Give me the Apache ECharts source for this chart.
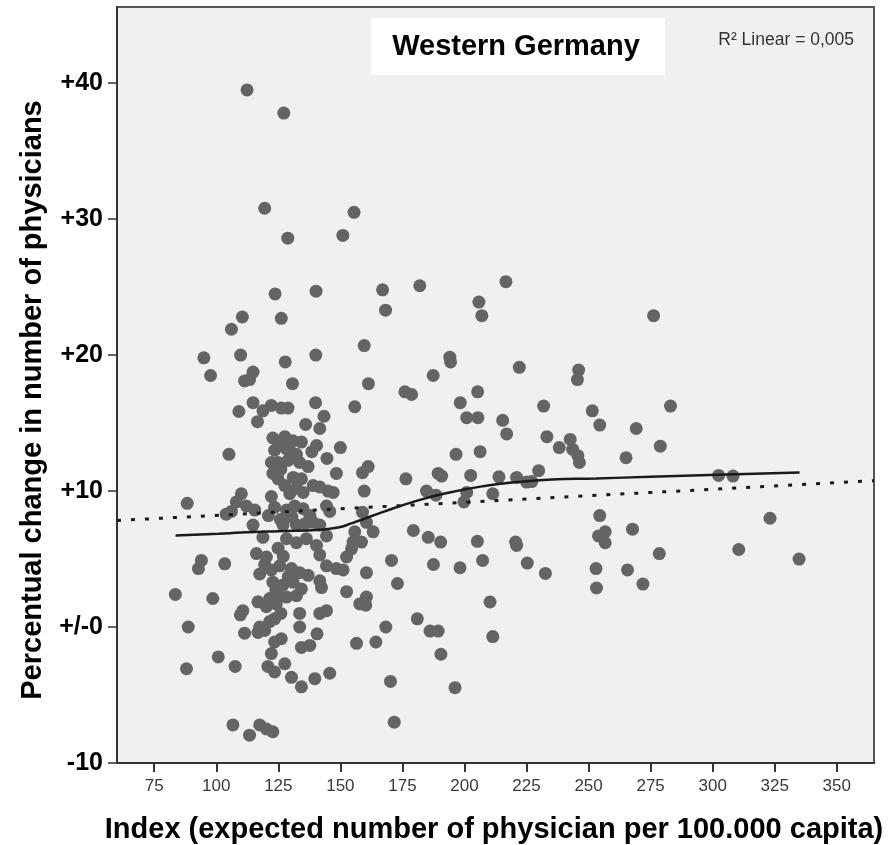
<!DOCTYPE html>
<html>
<head>
<meta charset="utf-8">
<title>Western Germany</title>
<script src="https://cdn.jsdelivr.net/npm/echarts@6.0.0/dist/echarts.min.js"></script>
<style>
	html, body { margin: 0; padding: 0; background: #fff; }
	#chart { width: 892px; height: 845px; }
</style>
</head>
<body>
<div id="chart"></div>
<script>
"use strict";

/*-----data-----*/
var xTicks = [75, 100, 125, 150, 175, 200, 225, 250, 275, 300, 325, 350];
var yTicks = [-10, 0, 10, 20, 30, 40];

// index value of each district
var districtIndex = [
	112.4, 127.2, 119.5, 155.5, 128.8, 151.0, 123.7, 140.2, 167.0, 182.0,
	168.2, 110.5, 126.2, 106.1, 159.6, 95.0, 109.8, 140.1, 127.8, 97.7,
	114.8, 111.4, 113.4, 130.7, 161.3, 176.0, 178.7,
	109.1, 114.8, 116.6, 118.8, 122.2, 126.2, 128.9, 140.0, 143.4, 155.8,
	136.0, 141.7, 105.1, 122.8, 127.6, 130.9, 134.3, 123.5, 128.3, 132.3,
	140.4, 150.0, 124.9, 128.9, 133.6, 144.6, 122.2, 122.8, 124.9, 137.0,
	134.3, 148.4, 139.0, 141.7, 145.0, 147.1, 127.6, 129.6, 132.3, 135.0,
	122.2, 110.1, 108.1, 106.1, 112.1, 115.5, 104.0, 123.5, 128.3, 131.6,
	135.0, 137.7, 144.4, 145.7, 114.8, 118.8, 126.9, 128.3, 132.3, 136.3,
	139.0, 141.7, 144.4, 155.8,
	125.6, 130.0, 126.0, 131.0, 138.5, 121.0, 125.8, 130.5, 135.8,
	103.4, 116.2, 120.2, 124.9, 132.3, 140.4, 141.7, 154.5, 152.5, 144.4,
	148.4, 151.1, 117.5, 122.2, 125.6, 130.3, 133.6, 137.0, 122.8, 126.9,
	130.9, 134.3, 141.7, 142.4, 116.8, 121.5, 124.9, 128.3, 132.3, 120.2,
	124.2, 152.5, 110.7, 109.7, 133.6, 141.7, 144.4, 157.8, 117.5, 121.5,
	123.5, 116.8, 119.5, 133.6, 111.4, 140.6, 123.5, 126.2, 134.3, 137.7,
	122.2, 156.5, 100.8, 107.6, 120.8, 123.5, 127.6, 130.3, 134.3, 139.7,
	145.7, 106.7, 113.4, 117.5, 120.2, 122.8,
	127.0, 129.0, 124.0, 119.5, 126.0,
	83.5, 98.6, 88.7, 88.0, 94.0, 92.8, 160.5, 160.5, 160.2, 173.0,
	170.6, 168.3, 164.3, 181.0, 186.1, 189.4, 190.5, 196.2, 170.2, 171.7,
	187.5, 88.3,
	198.2, 207.3, 225.3, 232.6, 253.0, 253.2, 265.7, 271.9, 210.3, 211.4,
	334.8,
	216.7, 205.8, 207.0, 194.1, 194.4, 222.1, 246.0, 245.5, 187.4, 205.3,
	198.3, 200.9, 205.4, 231.9, 251.5, 254.5, 215.4, 217.0, 233.2, 238.2,
	242.6, 243.6, 245.7, 246.3, 196.6, 206.3, 161.2, 158.9, 159.6, 176.4,
	189.4, 190.8, 202.5, 213.9, 221.0, 225.0, 227.1, 229.9, 184.7, 188.5,
	200.9, 199.8, 211.4, 158.9, 160.5, 163.2, 155.1, 158.5, 179.4, 185.4,
	190.4, 205.2, 220.6, 221.0,
	276.2, 283.0, 269.2, 278.9, 265.1, 302.4, 308.2, 254.5, 256.7, 254.0,
	256.7, 267.7, 323.1, 278.5, 310.5
];

// percentual change in number of physicians, same order
var physicianChange = [
	39.5, 37.8, 30.8, 30.5, 28.6, 28.8, 24.5, 24.7, 24.8, 25.1,
	23.3, 22.8, 22.7, 21.9, 20.7, 19.8, 20.0, 20.0, 19.5, 18.5,
	18.75, 18.1, 18.2, 17.9, 17.9, 17.3, 17.1,
	15.85, 16.5, 15.1, 15.9, 16.3, 16.1, 16.1, 16.5, 15.5, 16.2,
	14.9, 14.6, 12.7, 13.9, 14.0, 13.7, 13.6, 13.0, 13.1, 12.7,
	13.35, 13.2, 12.1, 12.25, 12.1, 12.4, 12.1, 11.3, 10.9, 11.8,
	10.9, 11.3, 10.4, 10.3, 10.0, 9.9, 10.4, 9.8, 10.2, 9.9,
	9.6, 9.8, 9.2, 8.5, 8.9, 8.6, 8.3, 8.8, 8.6, 8.9,
	8.7, 8.2, 8.9, 8.5, 7.5, 6.6, 7.5, 6.5, 7.5, 6.5,
	7.7, 7.5, 6.7, 7.0,
	13.4, 12.9, 11.6, 11.0, 12.9, 8.2, 7.9, 8.1, 7.6,
	4.65, 5.4, 5.15, 5.8, 6.2, 6.0, 5.3, 5.75, 5.15, 4.5,
	4.3, 4.2, 3.9, 4.2, 4.5, 4.3, 4.0, 3.8, 3.3, 3.1,
	3.3, 2.8, 3.4, 2.9, 1.85, 2.1, 2.3, 2.2, 2.3, 1.5,
	1.7, 2.6, 1.2, 0.9, 1.0, 1.0, 1.2, 1.7, 0.0, 0.4,
	0.6, -0.4, -0.25, 0.0, -0.45, -0.5, -1.1, -0.86, -1.5, -1.35,
	-1.95, -1.2, -2.2, -2.9, -2.9, -3.3, -2.7, -3.7, -4.4, -3.8,
	-3.4, -7.2, -7.95, -7.2, -7.5, -7.7,
	5.2, 3.7, 2.7, 4.6, 1.0,
	2.4, 2.1, 0.0, -3.07, 4.9, 4.3, 4.0, 2.2, 1.6, 3.2,
	4.9, 0.0, -1.1, 0.6, -0.3, -0.3, -2.0, -4.46, -4.0, -7.0,
	4.6, 9.1,
	4.36, 4.9, 4.7, 3.94, 4.3, 2.87, 4.2, 3.16, 1.84, -0.7,
	5.0,
	25.4, 23.9, 22.9, 19.85, 19.5, 19.1, 18.9, 18.2, 18.5, 17.3,
	16.5, 15.4, 15.4, 16.25, 15.9, 14.85, 15.2, 14.2, 14.0, 13.2,
	13.8, 13.06, 12.6, 12.1, 12.7, 12.9, 11.8, 11.35, 10.0, 10.9,
	11.3, 11.1, 11.15, 11.05, 11.0, 10.66, 10.7, 11.5, 10.0, 9.7,
	9.9, 9.2, 9.8, 8.45, 7.7, 7.0, 6.25, 6.25, 7.1, 6.6,
	6.25, 6.3, 6.25, 6.0,
	22.9, 16.25, 14.6, 13.3, 12.45, 11.15, 11.1, 8.2, 7.0, 6.7,
	6.2, 7.2, 8.0, 5.4, 5.7
];

// loess fit
var loessX = [83.6, 101, 110, 125, 142, 150, 154, 158, 167, 181, 194, 208, 221, 235, 253, 275, 302, 335];
var loessY = [6.74, 6.86, 6.95, 7.05, 7.15, 7.35, 7.6, 7.85, 8.45, 9.3, 9.9, 10.37, 10.66, 10.85, 10.93, 11.05, 11.2, 11.37];

// linear fit end points
var linearX = [60, 365];
var linearY = [7.83, 10.76];

function pairs(xs, ys) {
	var out = [];
	for (var i = 0; i < xs.length; i++) out.push([xs[i], ys[i]]);
	return out;
}

var font = "'Liberation Sans', Arial, sans-serif";

/*-----chart-----*/
var chart = echarts.init(document.getElementById('chart'), null, { renderer: 'canvas' });
var option = {
	animation: false,
	backgroundColor: '#ffffff',
	grid: {
		left: 117,
		right: 18,
		top: 7,
		bottom: 82,
		show: true,
		backgroundColor: '#f0f0f0',
		borderColor: '#555555',
		borderWidth: 2
	},
	xAxis: {
		type: 'value',
		min: 60,
		max: 365,
		splitLine: { show: false },
		axisLine: { show: true, onZero: false, lineStyle: { color: '#333333', width: 2 } },
		axisTick: {
			show: true,
			customValues: xTicks,
			length: 9,
			lineStyle: { color: '#333333', width: 2 }
		},
		axisLabel: {
			customValues: xTicks,
			margin: 15,
			fontSize: 17,
			color: '#3a3a3a',
			fontFamily: font
		}
	},
	yAxis: {
		type: 'value',
		min: -10,
		max: 45.6,
		splitLine: { show: false },
		axisLine: { show: true, onZero: false, lineStyle: { color: '#333333', width: 2 } },
		axisTick: {
			show: true,
			customValues: yTicks,
			length: 9,
			lineStyle: { color: '#333333', width: 1.5 }
		},
		axisLabel: {
			customValues: yTicks,
			margin: 14,
			fontSize: 25,
			fontWeight: 'bold',
			color: '#000000',
			fontFamily: font,
			formatter: function (v) {
				if (v === 0) return '+/-0';
				return v > 0 ? '+' + v : String(v);
			}
		}
	},
	graphic: [{
		type: 'rect',
		shape: { x: 371, y: 18, width: 294, height: 57 },
		style: { fill: '#ffffff' },
		z: 10
	}, {
		type: 'text',
		x: 516,
		y: 47,
		style: {
			text: 'Western Germany',
			font: 'bold 29px ' + font,
			fill: '#000000',
			textAlign: 'center',
			textVerticalAlign: 'middle'
		},
		z: 11
	}, {
		type: 'text',
		x: 854,
		y: 40,
		style: {
			text: 'R\u00b2 Linear = 0,005',
			font: '17.5px ' + font,
			fill: '#333333',
			textAlign: 'right',
			textVerticalAlign: 'middle'
		},
		z: 11
	}, {
		type: 'text',
		x: 494,
		y: 830,
		style: {
			text: 'Index (expected number of physician per 100.000 capita)',
			font: 'bold 29px ' + font,
			fill: '#000000',
			textAlign: 'center',
			textVerticalAlign: 'middle'
		}
	}, {
		type: 'text',
		x: 33,
		y: 400,
		rotation: Math.PI / 2,
		style: {
			text: 'Percentual change in number of physicians',
			font: 'bold 29px ' + font,
			fill: '#000000',
			textAlign: 'center',
			textVerticalAlign: 'middle'
		}
	}],
	series: [{
		type: 'scatter',
		data: pairs(districtIndex, physicianChange),
		symbolSize: 13,
		itemStyle: { color: '#646464', opacity: 1 },
		z: 2
	}, {
		type: 'line',
		data: pairs(linearX, linearY),
		showSymbol: false,
		lineStyle: { color: '#1a1a1a', width: 3, type: [4, 10] },
		z: 3
	}, {
		type: 'line',
		data: pairs(loessX, loessY),
		smooth: true,
		showSymbol: false,
		lineStyle: { color: '#1a1a1a', width: 2.5 },
		z: 4
	}]
};
chart.setOption(option);
window.addEventListener('resize', function () {
	chart.resize();
});
</script>
</body>
</html>
